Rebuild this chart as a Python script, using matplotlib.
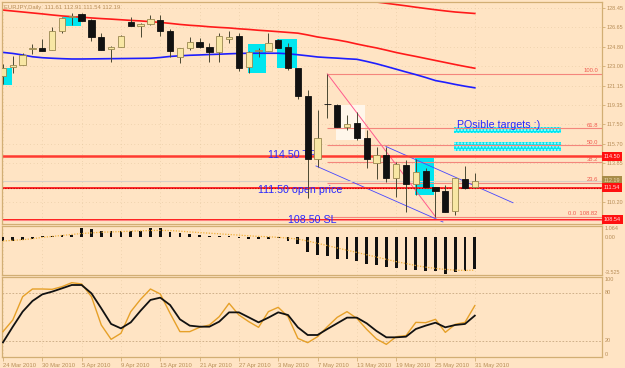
import numpy as np
import matplotlib.pyplot as plt
from matplotlib.patches import Rectangle

# EURJPY daily, 24 Mar 2010 .. 31 May 2010
opens = [122.05, 122.87, 123.06, 124.58, 124.69, 124.47, 126.31, 127.60, 127.89, 127.32,
         125.75, 124.56, 124.78, 127.10, 126.76, 126.95, 127.32, 126.31, 123.87, 124.66,
         125.28, 124.81, 124.28, 125.51, 125.82, 122.87, 124.43, 124.43, 125.44, 124.75,
         122.78, 120.17, 114.22, 119.42, 119.32, 117.28, 117.60, 116.19, 113.84, 114.62,
         112.49, 113.68, 111.89, 113.12, 111.58, 111.26, 109.38, 112.36, 111.61]
highs = [123.18, 123.93, 124.19, 125.09, 125.51, 126.63, 127.63, 127.98, 127.95, 127.42,
         126.13, 124.83, 125.91, 127.58, 127.01, 127.79, 127.79, 126.47, 124.69, 125.69,
         125.66, 125.19, 126.07, 126.31, 126.07, 124.36, 124.72, 126.07, 125.49, 125.19,
         122.81, 120.74, 118.85, 122.25, 119.37, 118.38, 118.70, 116.97, 115.40, 115.40,
         114.00, 114.15, 114.22, 113.37, 111.61, 111.80, 112.46, 113.61, 112.91]
lows = [121.30, 122.34, 123.04, 124.09, 124.40, 124.45, 126.07, 126.85, 127.23, 125.37,
        124.50, 123.40, 124.75, 126.73, 125.75, 126.85, 125.84, 123.87, 123.25, 124.50,
        124.69, 123.34, 123.40, 125.13, 122.52, 122.36, 123.87, 124.40, 124.69, 122.62,
        119.89, 110.60, 113.52, 118.07, 117.26, 116.97, 116.03, 113.37, 112.33, 112.11,
        110.70, 109.29, 110.86, 111.49, 108.82, 109.26, 108.98, 111.39, 111.54]
closes = [122.81, 123.09, 124.03, 124.65, 124.43, 126.31, 127.48, 127.74, 127.26, 125.72,
          124.53, 124.81, 125.82, 126.76, 126.95, 127.39, 126.29, 124.43, 124.66, 125.28,
          124.81, 124.28, 125.82, 125.75, 122.78, 124.34, 124.47, 125.13, 124.72, 122.78,
          120.17, 114.22, 116.25, 119.38, 117.28, 117.54, 116.19, 114.24, 114.62, 112.49,
          113.75, 111.89, 113.05, 111.64, 111.26, 109.29, 112.43, 111.55, 112.19]

# moving averages on the price chart
ma_red = [128.25, 128.16, 128.07, 127.98, 127.89, 127.79, 127.70, 127.63, 127.58, 127.51,
          127.45, 127.40, 127.34, 127.28, 127.23, 127.16, 127.09, 127.00, 126.90, 126.82,
          126.76, 126.68, 126.62, 126.57, 126.49, 126.43, 126.35, 126.29, 126.22, 126.15,
          126.08, 125.91, 125.72, 125.58, 125.44, 125.27, 125.06, 124.87, 124.69, 124.48,
          124.26, 124.07, 123.89, 123.70, 123.51, 123.32, 123.13, 122.95, 122.78]
ma_red_long = [np.nan] * 36 + [129.30, 129.13, 129.01, 128.89, 128.77, 128.65, 128.52,
                               128.40, 128.28, 128.17, 128.07, 128.00, 127.93]
ma_blue = [124.27, 124.17, 124.03, 123.86, 123.77, 123.72, 123.68, 123.65, 123.65, 123.66,
           123.67, 123.68, 123.69, 123.70, 123.71, 123.72, 123.79, 123.89, 123.95, 124.00,
           124.03, 124.07, 124.10, 124.14, 124.17, 124.19, 124.19, 124.19, 124.19, 124.14,
           124.05, 123.95, 123.84, 123.78, 123.73, 123.67, 123.62, 123.42, 123.20, 122.95,
           122.69, 122.43, 122.18, 121.91, 121.62, 121.45, 121.26, 121.09, 120.94]

# MACD window
macd_main = [-0.35, -0.30, -0.25, -0.20, 0.15, 0.15, 0.24, 0.24, 0.90, 0.82,
             0.55, 0.55, 0.55, 0.60, 0.60, 0.88, 0.90, 0.51, 0.45, 0.36,
             0.24, 0.15, 0.15, 0.12, -0.08, -0.16, -0.13, -0.13, -0.10, -0.31,
             -0.62, -1.38, -1.69, -1.78, -2.00, -2.00, -2.20, -2.45, -2.60, -2.76,
             -2.91, -3.07, -3.07, -3.13, -3.16, -3.45, -3.22, -3.16, -3.00]
macd_signal = [-0.34, -0.28, -0.22, -0.13, 0.00, 0.09, 0.18, 0.27, 0.36, 0.42,
               0.48, 0.51, 0.54, 0.58, 0.61, 0.64, 0.65, 0.64, 0.58, 0.51,
               0.45, 0.39, 0.33, 0.27, 0.21, 0.15, 0.09, 0.06, 0.00, -0.07,
               -0.16, -0.34, -0.56, -0.77, -0.99, -1.20, -1.41, -1.63, -1.84, -2.06,
               -2.27, -2.45, -2.64, -2.79, -2.91, -3.00, -3.07, -3.10, -3.07]

# Stochastic window
stoch_main = [31.7, 46.3, 75.4, 85.0, 85.0, 84.6, 87.9, 92.9, 91.3, 75.4,
              40.0, 22.1, 29.6, 56.7, 72.1, 85.0, 78.8, 54.6, 31.7, 31.7,
              37.1, 40.0, 50.4, 67.1, 52.5, 44.2, 37.1, 56.7, 62.1, 50.4,
              23.3, 17.9, 25.4, 37.9, 49.6, 56.7, 48.3, 34.6, 22.5, 15.8,
              25.4, 26.7, 43.3, 42.9, 47.1, 30.8, 40.8, 43.3, 64.2]
stoch_signal = [18.3, 37.9, 56.7, 70.0, 78.3, 81.7, 85.8, 90.0, 90.0, 79.6,
                60.8, 41.3, 35.8, 43.3, 57.9, 71.3, 74.2, 65.0, 47.1, 39.2,
                37.9, 37.9, 44.2, 55.8, 55.8, 49.6, 43.3, 49.2, 55.8, 52.5,
                37.1, 27.5, 27.5, 35.0, 42.1, 49.2, 49.2, 42.1, 32.5, 24.6,
                24.6, 25.4, 35.0, 39.2, 42.9, 37.1, 40.0, 41.3, 51.7]

date_labels = ["24 Mar 2010", "30 Mar 2010", "5 Apr 2010", "9 Apr 2010", "15 Apr 2010",
               "21 Apr 2010", "27 Apr 2010", "3 May 2010", "7 May 2010", "13 May 2010",
               "19 May 2010", "25 May 2010", "31 May 2010"]
price_ticks = [128.45, 126.65, 124.80, 123.00, 121.15, 119.35, 117.50, 115.70, 113.85, 110.20]

# fibonacci retracement drawn from the 7 May high to the 21 May low
fib_high = 122.25
fib_low = 108.82
fib_start = 33
fib_end = 44
fib_levels = [100.0, 61.8, 50.0, 38.2, 23.6, 0.0]

# drawn objects: (bar_from, bar_to, price_low, price_high)
cyan_boxes = [(-1.0, 0.9, 121.21, 122.81), (6.1, 7.9, 126.76, 127.63),
              (24.9, 26.8, 122.31, 125.03), (27.85, 29.9, 122.78, 125.51),
              (41.9, 43.85, 110.86, 114.34)]
target_boxes = [(45.9, 56.8, 116.66, 117.23), (45.9, 56.8, 115.03, 115.82)]
white_box = (33.9, 36.8, 116.03, 119.32)
channel_lines = [((31.84, 113.59), (44.76, 108.32)), ((38.96, 115.42), (51.88, 110.13))]

tp_price, open_price, sl_price, bid_price = 114.50, 111.54, 108.54, 112.19
user_levels = [114.50, 111.50, 108.50]

BG = '#ffe4c4'
FRAME = '#d2ae74'
LABEL = '#b88e58'
FONT = 'Liberation Sans'

plt.rcParams['font.family'] = [FONT, 'DejaVu Sans']

W, H = 625, 368


def px_rect(top, bottom):
    return [2 / W, 1 - bottom / H, 600 / W, (bottom - top) / H]


def style_axes(ax):
    ax.set_facecolor(BG)
    for s in ax.spines.values():
        s.set_color(FRAME)
        s.set_linewidth(0.9)
    ax.set_xlim(-0.1, 60.94)
    ax.tick_params(axis='both', colors=FRAME, labelcolor=LABEL, labelsize=4,
                   length=2, width=0.6, pad=1)
    ax.yaxis.tick_right()
    ax.set_xticks(range(0, len(opens), 4))
    ax.grid(True, linestyle=(0, (1, 4)), color='#e2c59c', linewidth=0.5)
    ax.set_axisbelow(True)


fig = plt.figure(figsize=(W / 100, H / 100), dpi=100, facecolor=BG)
ax = fig.add_axes(px_rect(2, 224))
ax_m = fig.add_axes(px_rect(226, 275))
ax_s = fig.add_axes(px_rect(277, 357))
for a in (ax, ax_m, ax_s):
    style_axes(a)

x = np.arange(len(opens))
o = np.array(opens)
c = np.array(closes)

# ---- price window ----
ax.set_ylim(108.13, 129.01)
ax.set_yticks(price_ticks)
ax.set_yticklabels([f"{p:.2f}" for p in price_ticks])
ax.tick_params(axis='x', labelbottom=False, length=0)

for x0, x1, lo, hi in cyan_boxes:
    ax.add_patch(Rectangle((x0, lo), x1 - x0, hi - lo, fc='#00e6ef', ec='none', zorder=1))
for x0, x1, lo, hi in target_boxes:
    ax.add_patch(Rectangle((x0, lo), x1 - x0, hi - lo, fc='#00e6ef', ec='#b8fbff',
                           hatch='.....', lw=0, zorder=1))
x0, x1, lo, hi = white_box
ax.add_patch(Rectangle((x0, lo), x1 - x0, hi - lo, fc='#fff6ea', ec='none', zorder=1))

# fibonacci levels
span = fib_high - fib_low
for lev in fib_levels:
    p = fib_low + span * lev / 100
    ax.hlines(p, fib_start, 61, color='#f4867c', lw=0.8, zorder=2)
    txt = f"{lev:.1f}" if lev > 0 else f"0.0  {fib_low:.2f}"
    ax.text(0.993, p + 0.05, txt, transform=ax.get_yaxis_transform(), ha='right',
            va='bottom', fontsize=4.2, color='#f05a50', zorder=5)
ax.plot([fib_start, fib_end], [fib_high, fib_low], color='#ff5a8c', lw=0.7, zorder=2)

for (xa, ya), (xb, yb) in channel_lines:
    ax.plot([xa, xb], [ya, yb], color='#4646ff', lw=0.6, zorder=2)

# order / user lines
ax.axhline(bid_price, color='#d8cfc6', lw=0.8, zorder=2)
ax.axhline(user_levels[0], color='#ff3a30', lw=1.8, zorder=2)
ax.axhline(user_levels[1], color='#ff2a2a', lw=1.4, zorder=2)
ax.axhline(open_price, color='#c00000', lw=0.8, ls=(0, (1, 1.5)), zorder=2)
ax.axhline(user_levels[2], color='#ff1a1a', lw=1.4, zorder=2)
ax.axhline(sl_price, color='#ff8080', lw=0.8, zorder=2)

# moving averages
ax.plot(x, ma_red, color='#ff1a1a', lw=1.2, zorder=2.5)
ax.plot(x, ma_red_long, color='#ff1a1a', lw=1.2, zorder=2.5)
ax.plot(x, ma_blue, color='#1e1eff', lw=1.2, zorder=2.5)

# text objects
blue = '#2828ff'
ax.text(27.0, 114.37, "114.50 TP", fontsize=7.7, color=blue, va='baseline', zorder=2.8)
ax.text(25.97, 111.08, "111.50 open price", fontsize=7.7, color=blue, va='baseline', zorder=2.8)
ax.text(29.02, 108.26, "108.50 SL", fontsize=7.7, color=blue, va='baseline', zorder=2.8)
ax.text(46.15, 117.13, "POsible targets :)", fontsize=7.7, color=blue, va='baseline', zorder=5)

# candles
up = c >= o
body_lo = np.minimum(o, c)
body_h = np.maximum(np.abs(c - o), 0.05)
ax.vlines(x, lows, highs, color='#4a4832', lw=0.7, zorder=3)
ax.bar(x, body_h, bottom=body_lo, width=0.64,
       color=np.where(up, '#f8e7a4', '#111111'),
       edgecolor=np.where(up, '#9a8850', '#111111'), linewidth=0.6, zorder=4)

# price boxes on the right axis
ytr = ax.get_yaxis_transform()
for p, fc, tc in [(tp_price, '#ff1010', '#ffe0e0'), (bid_price, '#a88c48', '#e8d8b0'),
                  (open_price, '#ff1010', '#ffe0e0'), (sl_price, '#ff1010', '#ffe0e0')]:
    ax.text(1.003, p, f"{p:.2f}", transform=ytr, ha='left', va='center', fontsize=4,
            color=tc, zorder=6, clip_on=False,
            bbox=dict(boxstyle='square,pad=0.35', fc=fc, ec='none'))

fig.text(4 / W, 1 - 7 / H, "EURJPY,Daily  111.61 112.91 111.54 112.19",
         fontsize=4.2, color=LABEL, ha='left', va='center')

# ---- MACD window ----
ax_m.set_ylim(-3.525, 1.064)
ax_m.set_yticks([])
ax_m.tick_params(axis='x', labelbottom=False, length=0)
ax_m.bar(x, macd_main, width=0.28, color='#111111', zorder=3)
ax_m.plot(x, macd_signal, color='#f0b03c', lw=0.9, ls=(0, (1, 1.2)), zorder=4)
ax_m.text(1.005, 0.99, "1.064", transform=ax_m.transAxes, fontsize=4, color=LABEL, va='top')
ax_m.text(1.005, 0.0, "0.00", transform=ax_m.get_yaxis_transform(), fontsize=4,
          color=LABEL, va='center')
ax_m.text(1.005, 0.01, "-3.525", transform=ax_m.transAxes, fontsize=4, color=LABEL, va='bottom')

# ---- Stochastic window ----
ax_s.set_ylim(0, 100)
ax_s.set_yticks([])
ax_s.axhline(80, color='#c8a880', lw=0.6, ls=(0, (2, 2)), zorder=2)
ax_s.axhline(20, color='#c8a880', lw=0.6, ls=(0, (2, 2)), zorder=2)
ax_s.plot(x, stoch_main, color='#e6a028', lw=1.0, zorder=3)
ax_s.plot(x, stoch_signal, color='#111111', lw=1.3, zorder=4)
for val, va in [(100, 'top'), (80, 'center'), (20, 'center'), (0, 'bottom')]:
    ax_s.text(1.005, val, str(val), transform=ax_s.get_yaxis_transform(), fontsize=4,
              color=LABEL, va=va)
ax_s.set_xticklabels(date_labels, ha='left')
ax_s.tick_params(axis='x', length=3, pad=1.5, labelsize=4.2)

fig.savefig("out.png", dpi=100, facecolor=BG)
